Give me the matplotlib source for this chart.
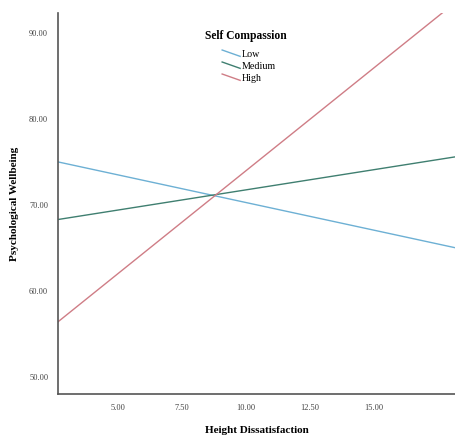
import numpy as np
import matplotlib
matplotlib.use("Agg")
import matplotlib.pyplot as plt
from matplotlib.legend_handler import HandlerBase
from matplotlib.lines import Line2D

# x range of the fit lines (Height Dissatisfaction)
x_ends = [2.67, 18.2]
groups = ["Low", "Medium", "High"]
low_vals = [75.0, 65.0]
medium_vals = [68.3, 75.6]
high_vals = [56.4, 93.6]
colors = ["#6db0d4", "#3f7f70", "#cf7d86"]

x_ticks = [5.0, 7.5, 10.0, 12.5, 15.0]
y_ticks = [50.0, 60.0, 70.0, 80.0, 90.0]

plt.rcParams['font.family'] = ['Liberation Serif', 'DejaVu Serif']


class DiagHandler(HandlerBase):
    # SPSS style slanted legend key
    def create_artists(self, legend, orig, xdescent, ydescent, width, height, fontsize, trans):
        ln = Line2D([-xdescent, -xdescent + width], [-ydescent + height, -ydescent],
                    color=orig.get_color(), lw=orig.get_linewidth(), transform=trans)
        return [ln]


fig = plt.figure(figsize=(4.56, 4.36), dpi=100)
ax = fig.add_axes([0.127, 0.096, 0.873, 0.874])

lines = []
for vals, c, name in zip([low_vals, medium_vals, high_vals], colors, groups):
    l, = ax.plot(x_ends, vals, color=c, lw=1.0, label=name)
    lines.append(l)

ax.set_xlim(x_ends[0], x_ends[1])
ax.set_ylim(48.0, 92.3)
ax.set_xticks(x_ticks)
ax.set_yticks(y_ticks)
ax.set_xticklabels(["%.2f" % v for v in x_ticks])
ax.set_yticklabels(["%.2f" % v for v in y_ticks])
ax.tick_params(length=0, labelsize=6, labelcolor="#444444", pad=7)

for s in ["top", "right"]:
    ax.spines[s].set_visible(False)
for s in ["left", "bottom"]:
    ax.spines[s].set_color("#555555")
    ax.spines[s].set_linewidth(1.2)

ax.set_xlabel("Height Dissatisfaction", fontsize=8, fontweight="bold", labelpad=10)
ax.set_ylabel("Psychological Wellbeing", fontsize=8, fontweight="bold", labelpad=7)

# legend title drawn separately so the gap to the entries can be set
fig.text(246 / 456, 1 - 36 / 436, "Self Compassion", fontsize=8.3, fontweight="bold",
         ha="center", va="center")
leg = ax.legend(handles=lines, loc="upper left",
                bbox_to_anchor=(0.40, 0.917), handler_map={Line2D: DiagHandler()},
                frameon=False, fontsize=7.2, handlelength=1.8, handleheight=0.6,
                handletextpad=0.15, labelspacing=0.3, borderpad=0)

fig.savefig("out.png", dpi=100)
